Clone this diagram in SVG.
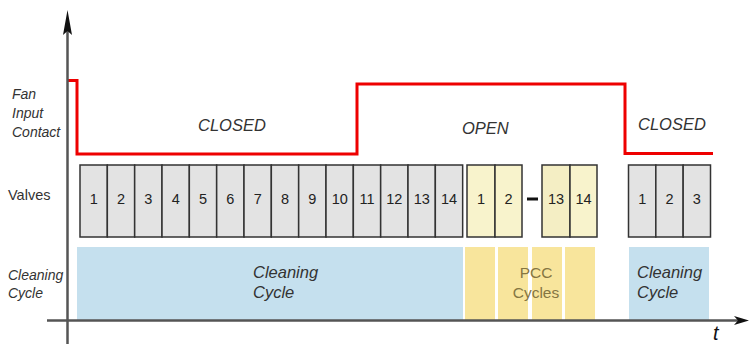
<svg xmlns="http://www.w3.org/2000/svg" width="749" height="344" viewBox="0 0 749 344">
<style>
.lbl{font-family:"Liberation Sans",Arial,sans-serif;fill:#333;font-size:14px}
.it{font-style:italic}
.state{font-family:"Liberation Sans",Arial,sans-serif;font-style:italic;fill:#333;font-size:16.5px}
.v{fill:#e3e3e3;stroke:#333;stroke-width:1.5}
.vy{fill:#f8f3cc;stroke:#333;stroke-width:1.5}
.vy2{fill:#f4eec4;stroke:#333;stroke-width:1.5}
.num{font-family:"Liberation Sans",Arial,sans-serif;fill:#222;font-size:14.5px;text-anchor:middle}
.blue{fill:#c5e0ee}
.yel{fill:#f8e59c}
.cc{font-family:"Liberation Sans",Arial,sans-serif;font-style:italic;fill:#333;font-size:16.5px}
.pcc{font-family:"Liberation Sans",Arial,sans-serif;fill:#857642;font-size:15.5px;text-anchor:middle}
.axis{stroke:#555;stroke-width:2.5;fill:none}
</style>
<g id="labels">
<text class="lbl it" x="12" y="99">Fan</text>
<text class="lbl it" x="12" y="118">Input</text>
<text class="lbl it" x="12" y="137">Contact</text>
<text class="lbl" x="8" y="200" style="font-size:14.5px">Valves</text>
<text class="lbl it" x="8" y="280">Cleaning</text>
<text class="lbl it" x="8" y="298">Cycle</text>
</g>
<g id="cleaning-cycle-1">
<rect class="blue" x="77" y="247" width="386" height="73"/>
<text class="cc" x="253" y="278">Cleaning</text>
<text class="cc" x="253" y="298">Cycle</text>
</g>
<g id="pcc-cycles">
<rect class="yel" x="465" y="247" width="30" height="73"/>
<rect class="yel" x="498" y="247" width="30" height="73"/>
<rect class="yel" x="532" y="247" width="30" height="73"/>
<rect class="yel" x="565" y="247" width="30" height="73"/>
<text class="pcc" x="536" y="278">PCC</text>
<text class="pcc" x="536" y="298">Cycles</text>
</g>
<g id="cleaning-cycle-2">
<rect class="blue" x="629" y="247" width="80" height="73"/>
<text class="cc" x="637" y="278">Cleaning</text>
<text class="cc" x="637" y="298">Cycle</text>
</g>
<g id="valves-1">
<rect class="v" x="80" y="165" width="27.33" height="72"/>
<rect class="v" x="107.33" y="165" width="27.33" height="72"/>
<rect class="v" x="134.67" y="165" width="27.33" height="72"/>
<rect class="v" x="162" y="165" width="27.33" height="72"/>
<rect class="v" x="189.33" y="165" width="27.33" height="72"/>
<rect class="v" x="216.67" y="165" width="27.33" height="72"/>
<rect class="v" x="244" y="165" width="27.33" height="72"/>
<rect class="v" x="271.33" y="165" width="27.33" height="72"/>
<rect class="v" x="298.67" y="165" width="27.33" height="72"/>
<rect class="v" x="326" y="165" width="27.33" height="72"/>
<rect class="v" x="353.33" y="165" width="27.33" height="72"/>
<rect class="v" x="380.67" y="165" width="27.33" height="72"/>
<rect class="v" x="408" y="165" width="27.33" height="72"/>
<rect class="v" x="435.33" y="165" width="27.33" height="72"/>
<text class="num" x="93.7" y="204">1</text>
<text class="num" x="121" y="204">2</text>
<text class="num" x="148.3" y="204">3</text>
<text class="num" x="175.7" y="204">4</text>
<text class="num" x="203" y="204">5</text>
<text class="num" x="230.3" y="204">6</text>
<text class="num" x="257.7" y="204">7</text>
<text class="num" x="285" y="204">8</text>
<text class="num" x="312.3" y="204">9</text>
<text class="num" x="339.7" y="204">10</text>
<text class="num" x="367" y="204">11</text>
<text class="num" x="394.3" y="204">12</text>
<text class="num" x="421.7" y="204">13</text>
<text class="num" x="449" y="204">14</text>
</g>
<g id="valves-pcc">
<rect class="vy" x="467" y="165" width="28" height="72"/>
<rect class="vy" x="495" y="165" width="27" height="72"/>
<rect class="vy2" x="542" y="165" width="28" height="72"/>
<rect class="vy" x="570" y="165" width="27" height="72"/>
<text class="num" x="481" y="204">1</text>
<text class="num" x="508.5" y="204">2</text>
<line x1="527" y1="199" x2="538" y2="199" stroke="#111" stroke-width="3"/>
<text class="num" x="556" y="204">13</text>
<text class="num" x="583.5" y="204">14</text>
</g>
<g id="valves-2">
<rect class="v" x="628.5" y="165" width="27.33" height="72"/>
<rect class="v" x="655.83" y="165" width="27.33" height="72"/>
<rect class="v" x="683.17" y="165" width="27.33" height="72"/>
<text class="num" x="642.2" y="204">1</text>
<text class="num" x="669.5" y="204">2</text>
<text class="num" x="696.8" y="204">3</text>
</g>
<g id="fan-signal">
<polyline points="68,80.5 77,80.5 77,154 357,154 357,84 625,84 625,153.5 713,153.5" fill="none" stroke="#ee0000" stroke-width="3"/>
<text class="state" x="198" y="131">CLOSED</text>
<text class="state" x="462" y="134">OPEN</text>
<text class="state" x="638" y="130">CLOSED</text>
</g>
<g id="connectors">
<line class="axis" x1="67.5" y1="30" x2="67.5" y2="344"/>
<path d="M67.5,10 L72,35 L67.5,31 L63,35 Z" fill="#111"/>
<line class="axis" x1="47" y1="320.5" x2="738" y2="320.5"/>
<path d="M749,320.5 L734,316 L738,320.5 L734,325 Z" fill="#111"/>
<text x="713" y="340" style="font-family:'Liberation Sans',Arial,sans-serif;font-style:italic;font-size:20px;fill:#111">t</text>
</g>
</svg>
